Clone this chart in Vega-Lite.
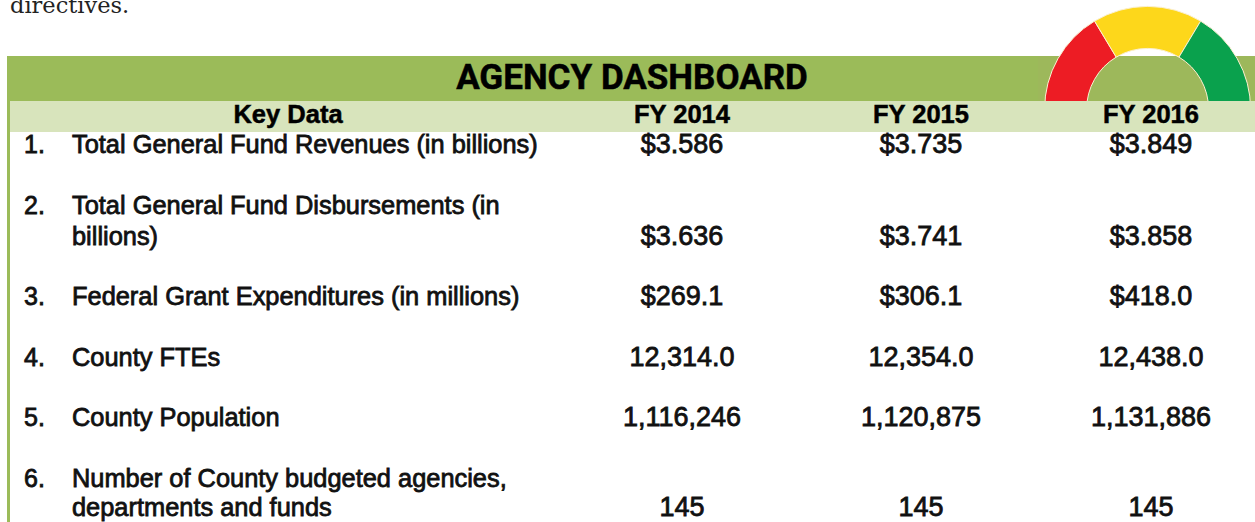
{
"$schema":"https://vega.github.io/schema/vega-lite/v6.json",
"width":1255,"height":522,"padding":0,
"autosize":"none",
"background":"white",
"view":{"stroke":null},
"datasets":{
"bandsBack":[
{"name":"title band","col":-1,"col2":5,"line":-4,"line2":-2},
{"name":"gauge backdrop","col":3.5,"col2":5,"line":-4,"line2":-2},
{"name":"left rule","col":-1,"col2":-0.5,"line":-2,"line2":14}
],
"gauge":[
{"name":"red","col":3.985,"line":-1.4,"from":-90,"to":-31},
{"name":"yellow","col":3.985,"line":-1.4,"from":-31,"to":31},
{"name":"green","col":3.985,"line":-1.4,"from":31,"to":90}
],
"bandsFront":[
{"name":"header band","col":-0.5,"col2":5,"line":-2,"line2":0}
],
"intro":[{"text":"directives.","col":-0.5,"line":-5}],
"title":[{"text":"AGENCY DASHBOARD","col":1.75,"line":-3}],
"header":[
{"text":"Key Data","col":1.5,"line":-1},
{"text":"FY 2014","col":2,"line":-1},
{"text":"FY 2015","col":3,"line":-1},
{"text":"FY 2016","col":4,"line":-1}
],
"numbers":[
{"text":"1.","col":0,"line":1},
{"text":"2.","col":0,"line":3},
{"text":"3.","col":0,"line":6},
{"text":"4.","col":0,"line":8},
{"text":"5.","col":0,"line":10},
{"text":"6.","col":0,"line":12}
],
"labels":[
{"text":"Total General Fund Revenues (in billions)","col":1,"line":1},
{"text":"Total General Fund Disbursements (in","col":1,"line":3},
{"text":"billions)","col":1,"line":4},
{"text":"Federal Grant Expenditures (in millions)","col":1,"line":6},
{"text":"County FTEs","col":1,"line":8},
{"text":"County Population","col":1,"line":10},
{"text":"Number of County budgeted agencies,","col":1,"line":12},
{"text":"departments and funds","col":1,"line":13}
],
"values":[
{"text":"$3.586","col":2,"line":1},{"text":"$3.735","col":3,"line":1},{"text":"$3.849","col":4,"line":1},
{"text":"$3.636","col":2,"line":4},{"text":"$3.741","col":3,"line":4},{"text":"$3.858","col":4,"line":4},
{"text":"$269.1","col":2,"line":6},{"text":"$306.1","col":3,"line":6},{"text":"$418.0","col":4,"line":6},
{"text":"12,314.0","col":2,"line":8},{"text":"12,354.0","col":3,"line":8},{"text":"12,438.0","col":4,"line":8},
{"text":"1,116,246","col":2,"line":10},{"text":"1,120,875","col":3,"line":10},{"text":"1,131,886","col":4,"line":10},
{"text":"145","col":2,"line":13},{"text":"145","col":3,"line":13},{"text":"145","col":4,"line":13}
]
},
"encoding":{
"x":{"field":"col","type":"quantitative","axis":null,"scale":{"domain":[-2,-1,-0.5,0,1,1.5,1.75,2,3,3.5,4,5],"range":[0,7,10,24,72,288,632,682,921,1038,1151,1255],"nice":false,"zero":false}},
"y":{"field":"line","type":"quantitative","axis":null,"scale":{"domain":[-5,-4,-3,-2,-1,0,1,3,4,6,8,10,12,13,14],"range":[13,56,78,101,115,132,145,206,237,297,358,418,479,508,522],"nice":false,"zero":false}}
},
"layer":[
{"data":{"name":"bandsBack"},"mark":{"type":"rect"},
"encoding":{"x2":{"field":"col2"},"y2":{"field":"line2"},
"color":{"field":"name","type":"nominal","legend":null,"scale":{"domain":["title band","gauge backdrop","left rule","header band","red","yellow","green"],"range":["#9bbb59","#9db85b","#9bbb59","#d8e4bc","#ed1c24","#fdd71b","#0aa14d"]}}}},
{"data":{"name":"gauge"},"mark":{"type":"arc","radius":103,"radius2":61,"stroke":"#fbf0d0","strokeWidth":1},
"encoding":{"theta":{"field":"from","type":"quantitative","stack":null,"scale":{"domain":[-90,90],"range":[-1.5708,1.5708]}},"theta2":{"field":"to"},
"color":{"field":"name","type":"nominal","legend":null}}},
{"data":{"name":"bandsFront"},"mark":{"type":"rect"},
"encoding":{"x2":{"field":"col2"},"y2":{"field":"line2"},
"color":{"field":"name","type":"nominal","legend":null}}},
{"data":{"name":"intro"},"mark":{"type":"text","align":"left","baseline":"alphabetic","font":"DejaVu Serif","fontSize":22.5,"color":"#222222"},
"encoding":{"text":{"field":"text"}}},
{"data":{"name":"title"},"mark":{"type":"text","align":"center","baseline":"middle","font":"Roboto","fontWeight":"bold","fontSize":35,"color":"#000000","stroke":"#000000","strokeWidth":0.5},
"encoding":{"text":{"field":"text"}}},
{"data":{"name":"header"},"mark":{"type":"text","align":"center","baseline":"middle","font":"Liberation Sans","fontWeight":"bold","fontSize":25.5,"color":"#000000","stroke":"#000000","strokeWidth":0.5},
"encoding":{"text":{"field":"text"}}},
{"data":{"name":"numbers"},"mark":{"type":"text","align":"left","baseline":"middle","font":"Liberation Sans","fontSize":25,"color":"#111111","stroke":"#111111","strokeWidth":0.8},
"encoding":{"text":{"field":"text"}}},
{"data":{"name":"labels"},"mark":{"type":"text","align":"left","baseline":"middle","font":"Liberation Sans","fontSize":25.4,"color":"#111111","stroke":"#111111","strokeWidth":0.8},
"encoding":{"text":{"field":"text"}}},
{"data":{"name":"values"},"mark":{"type":"text","align":"center","baseline":"middle","font":"Liberation Sans","fontSize":27,"color":"#111111","stroke":"#111111","strokeWidth":0.8},
"encoding":{"text":{"field":"text"}}}
]
}
